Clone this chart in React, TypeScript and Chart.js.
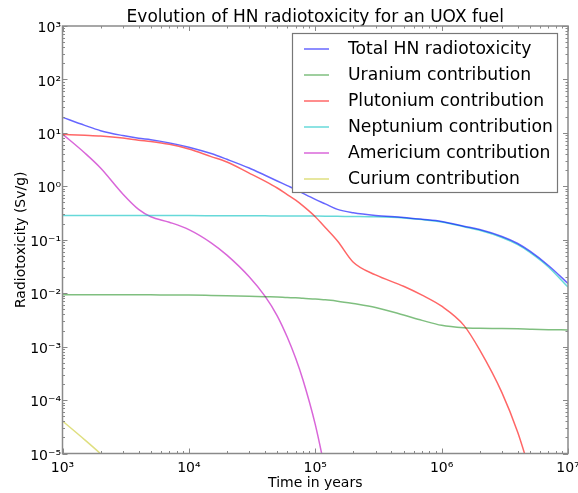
import { useEffect, useRef } from 'react';
import { Chart, registerables } from 'chart.js';

Chart.register(...registerables);

// ---- data ----
const years = [1e3, 1.5e3, 2e3, 3e3, 4e3, 5e3, 7e3, 1e4, 1.5e4, 2e4, 3e4, 4e4, 5e4, 6e4, 7e4, 8e4, 1e5, 1.2e5, 1.5e5, 2e5, 3e5, 5e5, 7e5, 1e6, 1.5e6, 2e6, 3e6, 4e6, 5e6, 7e6, 1e7];

const totalHN = [19.5, 13.8, 11.0, 8.9, 7.9, 7.45, 6.5, 5.4, 4.1, 3.2, 2.2, 1.61, 1.26, 1.03, 0.87, 0.74, 0.57, 0.47, 0.37, 0.32, 0.285, 0.262, 0.242, 0.22, 0.179, 0.155, 0.115, 0.085, 0.061, 0.033, 0.0152];
const uranium = [0.0093, 0.0093, 0.0093, 0.0093, 0.0093, 0.0093, 0.0092, 0.0092, 0.0091, 0.009, 0.0088, 0.0086, 0.0085, 0.0083, 0.0082, 0.008, 0.0078, 0.0075, 0.0071, 0.0064, 0.0054, 0.0039, 0.0031, 0.0025, 0.00225, 0.0022, 0.00218, 0.00215, 0.00212, 0.00208, 0.00205];
const plutonium = [9.4, 9.0, 8.7, 8.0, 7.3, 6.9, 6.1, 5.0, 3.6, 2.85, 1.77, 1.25, 0.93, 0.7, 0.55, 0.43, 0.27, 0.17, 0.095, 0.038, 0.022, 0.0135, 0.0092, 0.0057, 0.0025, 0.00087, 0.000138, 0.000025, 0.0000047, null, null];
const neptunium = [0.285, 0.285, 0.285, 0.284, 0.284, 0.284, 0.283, 0.283, 0.282, 0.281, 0.28, 0.28, 0.279, 0.279, 0.278, 0.278, 0.277, 0.276, 0.274, 0.272, 0.268, 0.255, 0.238, 0.215, 0.175, 0.15, 0.11, 0.081, 0.058, 0.031, 0.013];
const americium = [9.5, 4.2, 2.2, 0.72, 0.37, 0.27, 0.213, 0.155, 0.0877, 0.0515, 0.0203, 0.0088, 0.00377, 0.00151, 0.000603, 0.000237, 0.000035, 0.0000048, null, null, null, null, null, null, null, null, null, null, null, null, null];
const curium = [0.0000405, 0.000018, 0.0000099, 0.000004, null, null, null, null, null, null, null, null, null, null, null, null, null, null, null, null, null, null, null, null, null, null, null, null, null, null, null];

const seriesLabels = ['Total HN radiotoxicity', 'Uranium contribution', 'Plutonium contribution', 'Neptunium contribution', 'Americium contribution', 'Curium contribution'];
const seriesColors = ['rgba(0,0,255,0.6)', 'rgba(0,128,0,0.5)', 'rgba(255,0,0,0.6)', 'rgba(0,191,191,0.6)', 'rgba(191,0,191,0.6)', 'rgba(191,191,0,0.5)'];
const seriesValues = [totalHN, uranium, plutonium, neptunium, americium, curium];

const xTickExponents = [3, 4, 5, 6, 7];
const yTickExponents = [-5, -4, -3, -2, -1, 0, 1, 2, 3];

const titleText = 'Evolution of HN radiotoxicity for an UOX fuel';
const xTitle = 'Time in years';
const yTitle = 'Radiotoxicity (Sv/g)';

const FONT = "'DejaVu Sans', 'Liberation Sans', sans-serif";

const SUP: Record<string, string> = { '-': '⁻', '0': '⁰', '1': '¹', '2': '²', '3': '³', '4': '⁴', '5': '⁵', '6': '⁶', '7': '⁷', '8': '⁸', '9': '⁹' };
const pow10Label = (e: number) => '10' + String(e).split('').map((c) => SUP[c]).join('');

const frameTicksPlugin = {
  id: 'frameTicks',
  afterDatasetsDraw(chart: any) {
    const { ctx, chartArea } = chart;
    const { left, right, top, bottom } = chartArea;
    const xs = chart.scales.x;
    const ys = chart.scales.y;
    ctx.save();
    ctx.strokeStyle = '#888';
    ctx.lineWidth = 1;
    const seg = (x1: number, y1: number, x2: number, y2: number) => {
      ctx.beginPath();
      ctx.moveTo(x1, y1);
      ctx.lineTo(x2, y2);
      ctx.stroke();
    };
    const mk = (exps: number[], fn: (v: number, len: number) => void) => {
      for (let i = 0; i < exps.length; i++) {
        const base = Math.pow(10, exps[i]);
        fn(base, 5);
        if (i < exps.length - 1) for (let k = 2; k <= 9; k++) fn(k * base, 2.5);
      }
    };
    mk(xTickExponents, (v, len) => {
      const px = Math.round(xs.getPixelForValue(v)) + 0.5;
      seg(px, bottom, px, bottom - len);
      seg(px, top, px, top + len);
    });
    mk(yTickExponents, (v, len) => {
      const py = Math.round(ys.getPixelForValue(v)) + 0.5;
      seg(left, py, left + len, py);
      seg(right, py, right - len, py);
    });
    ctx.lineWidth = 1.5;
    ctx.strokeStyle = '#8a8a8a';
    ctx.strokeRect(left, top, right - left, bottom - top);

    // legend box (drawn over the lines, as in the reference)
    const bx = 292.5, by = 33.5, bw = 265, bh = 159;
    ctx.fillStyle = '#fff';
    ctx.fillRect(bx, by, bw, bh);
    ctx.lineWidth = 1.2;
    ctx.strokeStyle = '#777';
    ctx.strokeRect(bx, by, bw, bh);
    ctx.font = `17.2px ${FONT}`;
    ctx.textBaseline = 'middle';
    ctx.textAlign = 'left';
    chart.data.datasets.forEach((ds: any, i: number) => {
      const cy = 49 + i * 26;
      ctx.strokeStyle = ds.borderColor;
      ctx.lineWidth = 1.5;
      seg(304, cy, 329, cy);
      ctx.fillStyle = '#000';
      ctx.fillText(ds.label, 348, cy + 1);
    });
    ctx.restore();
  },
};

export default function App() {
  const ref = useRef<HTMLCanvasElement>(null);
  useEffect(() => {
    document.body.style.margin = '0';
    const datasets = seriesLabels.map((label, i) => ({
      label,
      data: years.map((x, j) => ({ x, y: seriesValues[i][j] })),
      borderColor: seriesColors[i],
      backgroundColor: seriesColors[i],
      borderWidth: 1.5,
      pointRadius: 0,
      fill: false,
      cubicInterpolationMode: 'monotone' as const,
      spanGaps: false,
    }));
    const chart = new Chart(ref.current as HTMLCanvasElement, {
      type: 'line',
      data: { datasets },
      plugins: [frameTicksPlugin],
      options: {
        responsive: false,
        animation: false,
        devicePixelRatio: 1,
        layout: { padding: { left: 0, top: 0, right: 10, bottom: 0 } },
        plugins: {
          legend: { display: false },
          tooltip: { enabled: false },
          title: {
            display: true,
            text: titleText,
            fullSize: false,
            color: '#000',
            font: { family: FONT, size: 17, weight: 'normal', lineHeight: 1 },
            padding: { top: 9, bottom: 0 },
          },
        },
        scales: {
          x: {
            type: 'logarithmic',
            min: 1e3,
            max: 1e7,
            position: 'bottom',
            grid: { display: false, drawTicks: false },
            border: { display: false },
            afterBuildTicks: (s: any) => {
              s.ticks = xTickExponents.map((e) => ({ value: Math.pow(10, e) }));
            },
            afterFit: (s: any) => {
              s.height = 39.5;
              s.paddingLeft = 0;
              s.paddingRight = 0;
            },
            ticks: {
              autoSkip: false,
              maxRotation: 0,
              minRotation: 0,
              padding: 6,
              color: '#000',
              font: { family: FONT, size: 14, lineHeight: 1.2 },
              callback: (v: any) => pow10Label(Math.round(Math.log10(Number(v)))),
            },
            title: {
              display: true,
              text: xTitle,
              color: '#000',
              font: { family: FONT, size: 14, lineHeight: 1.2 },
              padding: { top: 0, bottom: 1.4 },
            },
          },
          y: {
            type: 'logarithmic',
            min: 1e-5,
            max: 1e3,
            position: 'left',
            grid: { display: false, drawTicks: false },
            border: { display: false },
            afterBuildTicks: (s: any) => {
              s.ticks = yTickExponents.map((e) => ({ value: Math.pow(10, e) }));
            },
            afterFit: (s: any) => {
              s.width = 62.5;
              s.paddingTop = 0;
              s.paddingBottom = 0;
            },
            ticks: {
              autoSkip: false,
              padding: 1.5,
              labelOffset: 2.5,
              color: '#000',
              font: { family: FONT, size: 14, lineHeight: 1.2 },
              callback: (v: any) => pow10Label(Math.round(Math.log10(Number(v)))),
            },
            title: {
              display: true,
              text: yTitle,
              color: '#000',
              font: { family: FONT, size: 14, lineHeight: 1.2 },
              padding: { top: 13, bottom: 0 },
            },
          },
        },
      } as any,
    });
    return () => chart.destroy();
  }, []);
  return (
    <div style={{ width: 578, height: 493 }}>
      <canvas ref={ref} width={578} height={493} style={{ display: 'block' }} />
    </div>
  );
}
